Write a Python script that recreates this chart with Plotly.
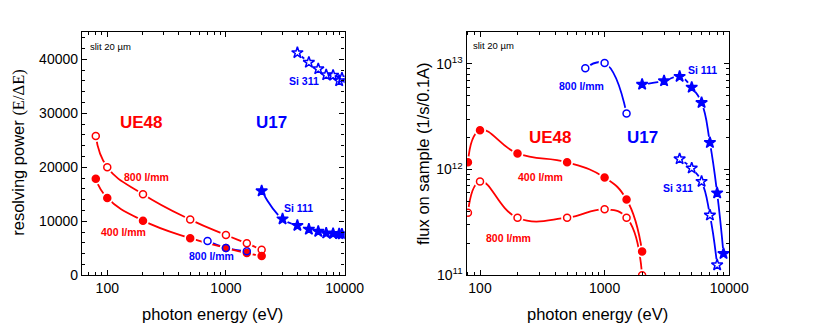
import plotly.graph_objects as go

# ---------------- data ----------------
E_ue48 = [80, 100, 200, 500, 1000, 1500, 2000]
rp_ue48_800 = [25800, 20000, 15000, 10300, 7450, 5900, 4700]
rp_ue48_400 = [17850, 14300, 10100, 6850, 5050, 4100, 3550]
E_u17_pgm = [700, 1000, 1500]
rp_u17_800 = [6350, 5050, 4450]
E_si111 = [2000, 3000, 4000, 5000, 6000, 7000, 8000, 9000, 9500]
rp_si111 = [15600, 10400, 9200, 8500, 8100, 7800, 7700, 7650, 7600]
E_si311 = [4000, 5000, 6000, 7000, 8000, 9000, 9500]
rp_si311 = [41200, 39400, 38200, 37100, 37000, 36000, 36500]

fl_ue48_400 = [1.17e12, 2.35e12, 1.42e12, 1.17e12, 8.4e11, 5.2e11, 1.68e11]
fl_ue48_800 = [3.9e11, 7.7e11, 3.5e11, 3.5e11, 4.2e11, 3.5e11, 1.0e11]
fl_u17_800 = [9.1e12, 1.02e13, 3.4e12]
E_si111_fl = [2000, 3000, 4000, 5000, 6000, 7000, 8000, 9000]
fl_si111 = [6.4e12, 6.9e12, 7.6e12, 6.0e12, 4.3e12, 1.8e12, 6.0e11, 1.6e11]
E_si311_fl = [4000, 5000, 6000, 7000, 8000]
fl_si311 = [1.26e12, 1.03e12, 7.7e11, 3.7e11, 1.25e11]

rp_ticks = [0, 10000, 20000, 30000, 40000]
rp_ticktext = ["0", "10000", "20000", "30000", "40000"]
e_ticks = [100, 1000, 10000]
e_ticktext = ["100", "1000", "10000"]
fl_ticks = [1e11, 1e12, 1e13]
fl_ticktext = ["10<sup>11</sup>", "10<sup>12</sup>", "10<sup>13</sup>"]

RED = "#ff0000"
BLUE = "#0000ff"
W, H = 840, 332

# series: (xaxis, yaxis, x, y, color, marker symbol)
series = [
    ("x", "y", E_u17_pgm, rp_u17_800, BLUE, "circle-open"),
    ("x", "y", E_ue48, rp_ue48_800, RED, "circle-open"),
    ("x", "y", E_ue48, rp_ue48_400, RED, "circle"),
    ("x", "y", E_si111, rp_si111, BLUE, "star"),
    ("x", "y", E_si311, rp_si311, BLUE, "star-open"),
    ("x2", "y2", E_ue48, fl_ue48_400, RED, "circle"),
    ("x2", "y2", E_ue48, fl_ue48_800, RED, "circle-open"),
    ("x2", "y2", E_u17_pgm, fl_u17_800, BLUE, "circle-open"),
    ("x2", "y2", E_si111_fl, fl_si111, BLUE, "star"),
    ("x2", "y2", E_si311_fl, fl_si311, BLUE, "star-open"),
]

fig = go.Figure()
# lines
for xa, ya, xs, ys, col, sym in series:
    fig.add_trace(go.Scatter(x=xs, y=ys, xaxis=xa, yaxis=ya, mode="lines",
                             line=dict(color=col, width=1.8, shape="spline", smoothing=1.3),
                             showlegend=False, hoverinfo="skip"))
# gaps around symbols
for xa, ya, xs, ys, col, sym in series:
    fig.add_trace(go.Scatter(x=xs, y=ys, xaxis=xa, yaxis=ya, mode="markers",
                             marker=dict(color="white", size=12,
                                         symbol="circle", line=dict(width=0)),
                             showlegend=False, hoverinfo="skip"))
# symbols (filled first, then open ones on top)
order = sorted(series, key=lambda s: 1 if "open" in s[5] else 0)
for xa, ya, xs, ys, col, sym in order:
    size = 7 if "circle" in sym else 8.5
    fig.add_trace(go.Scatter(x=xs, y=ys, xaxis=xa, yaxis=ya, mode="markers",
                             marker=dict(color=col, size=size, symbol=sym,
                                         line=dict(color=col, width=1.5)),
                             showlegend=False))

FONT = "Liberation Sans, Arial, sans-serif"
ydom = [1 - 282 / H, 1 - 33 / H]
common = dict(showline=True, linecolor="black", linewidth=1.3, mirror="allticks",
              ticks="inside", ticklen=5, tickwidth=1, tickcolor="black",
              showgrid=False, zeroline=False,
              tickfont=dict(family=FONT, size=14, color="black"))
minor_log = dict(ticks="inside", ticklen=3, tickcolor="black", dtick="D1", showgrid=False)

fig.update_layout(
    width=W, height=H, margin=dict(l=0, r=0, t=0, b=0),
    paper_bgcolor="white", plot_bgcolor="white",
    xaxis=dict(domain=[84 / W, 353 / W], type="log", range=[1.787, 4.0],
               tickvals=e_ticks, ticktext=e_ticktext, minor=minor_log,
               anchor="y", **common),
    yaxis=dict(domain=ydom, range=[0, 45000], tickvals=rp_ticks, ticktext=rp_ticktext,
               minor=dict(ticks="inside", ticklen=3, tickcolor="black", dtick=2000, showgrid=False),
               anchor="x", **common),
    xaxis2=dict(domain=[478 / W, 747 / W], type="log", range=[1.8925, 4.0],
                tickvals=e_ticks, ticktext=e_ticktext, minor=minor_log,
                anchor="y2", **common),
    yaxis2=dict(domain=ydom, type="log", range=[11, 13.3],
                tickvals=fl_ticks, ticktext=fl_ticktext, minor=minor_log,
                anchor="x2", **common),
)


def ann(text, px, py, color="black", size=10, bold=False, angle=0, family=FONT):
    if bold:
        text = "<b>" + text + "</b>"
    fig.add_annotation(text=text, x=px / W, y=1 - py / H, xref="paper", yref="paper",
                       showarrow=False, xanchor="center", yanchor="middle", textangle=angle,
                       font=dict(family=family, size=size, color=color))


# left panel labels
ann("slit 20 µm", 113, 48, size=9.5)
ann("UE48", 145, 126, RED, 17, True)
ann("U17", 278, 126, BLUE, 17, True)
ann("Si 311", 311, 83, BLUE, 10.5, True)
ann("800 l/mm", 150, 181, RED, 10.5, True)
ann("400 l/mm", 127, 238, RED, 10.5, True)
ann("800 l/mm", 217, 262.5, BLUE, 10.5, True)
ann("Si 111", 305.5, 213, BLUE, 10.5, True)
# right panel labels
ann("slit 20 µm", 505.5, 47, size=9.5)
ann("UE48", 564, 141, RED, 17, True)
ann("U17", 658, 141, BLUE, 17, True)
ann("800 l/mm", 596, 88, BLUE, 10.5, True)
ann("Si 111", 719.5, 72, BLUE, 10.5, True)
ann("400 l/mm", 554, 181, RED, 10.5, True)
ann("800 l/mm", 521, 244, RED, 10.5, True)
ann("Si 311", 695, 193, BLUE, 10.5, True)

# axis titles
ann("photon energy (eV)", 218, 321.5, size=16.5)
ann("photon energy (eV)", 612, 321.5, size=16.5)
ann('resolving power <span style="font-family:Liberation Serif, Times New Roman, serif">(E/ΔE)</span>',
    19, 157, size=16.5, angle=-90)
ann("flux on sample (1/s/0.1A)", 434, 157, size=16.5, angle=-90)

fig.write_html("out.html")
